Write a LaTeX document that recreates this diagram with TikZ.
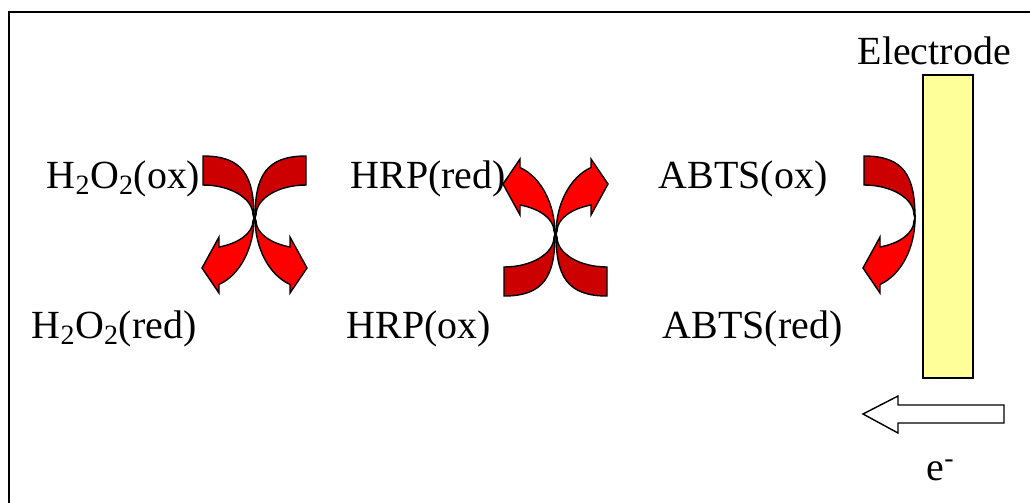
\documentclass[tikz,border=0pt]{standalone}
\usepackage{fontspec}
\setmainfont{Liberation Serif}
\definecolor{darkred}{RGB}{204,0,0}
\definecolor{brightred}{RGB}{255,0,0}
\definecolor{paleyellow}{RGB}{255,255,153}
\tikzset{
  species/.style={anchor=base west,inner sep=0pt,font=\fontsize{28.4}{34}\selectfont},
  redarrow/.pic={
    \filldraw[fill=darkred] (0,0) .. controls (40,0) and (51,20) .. (51,62)
      -- (50,59) arc[start angle=0,end angle=-90,x radius=50,y radius=30] -- cycle;
    \filldraw[fill=brightred] (51,62) arc[start angle=0,end angle=71.7,x radius=51,y radius=70]
      -- (16,137) -- (-1,112) -- (16,81) -- (16,91)
      arc[start angle=71.3,end angle=0,x radius=50,y radius=27.5] -- cycle;
  }
}
\begin{document}
\begin{tikzpicture}
    [x=0.025cm,y=-0.025cm,line width=1pt]
    \useasboundingbox (0,0) rectangle (1030,502);
    \clip (0,0) rectangle (1030,502);
    \draw [line width=1.1pt] (9,12) rectangle (1060,530);
    \node (h2o2ox) at (46,188) [species] {H\textsubscript{2}O\textsubscript{2}(ox)};
    \node (hrpred) at (350,188) [species] {HRP(red)};
    \node (abtsox) at (658,188) [species] {ABTS(ox)};
    \node (h2o2red) at (31,338) [species] {H\textsubscript{2}O\textsubscript{2}(red)};
    \node (hrpox) at (346,338) [species] {HRP(ox)};
    \node (abtsred) at (662,338) [species] {ABTS(red)};
    \node (electrode) at (857,64) [species] {Electrode};
    \node (elec) at (926,480) [species] {e\textsuperscript{-}};
    \draw [fill=paleyellow] (923,75) rectangle (973,378);
    \pic at (203,156) {redarrow};
    \pic [xscale=-1] at (306,156) {redarrow};
    \pic [yscale=-1] at (504,296) {redarrow};
    \pic [xscale=-1,yscale=-1] at (607,296) {redarrow};
    \pic at (864,156) {redarrow};
    \draw [fill=white] (1004,405) -- (898,405) -- (898,396) -- (863,414)
      -- (898,433) -- (898,423) -- (1004,423) -- cycle;
\end{tikzpicture}
\end{document}
